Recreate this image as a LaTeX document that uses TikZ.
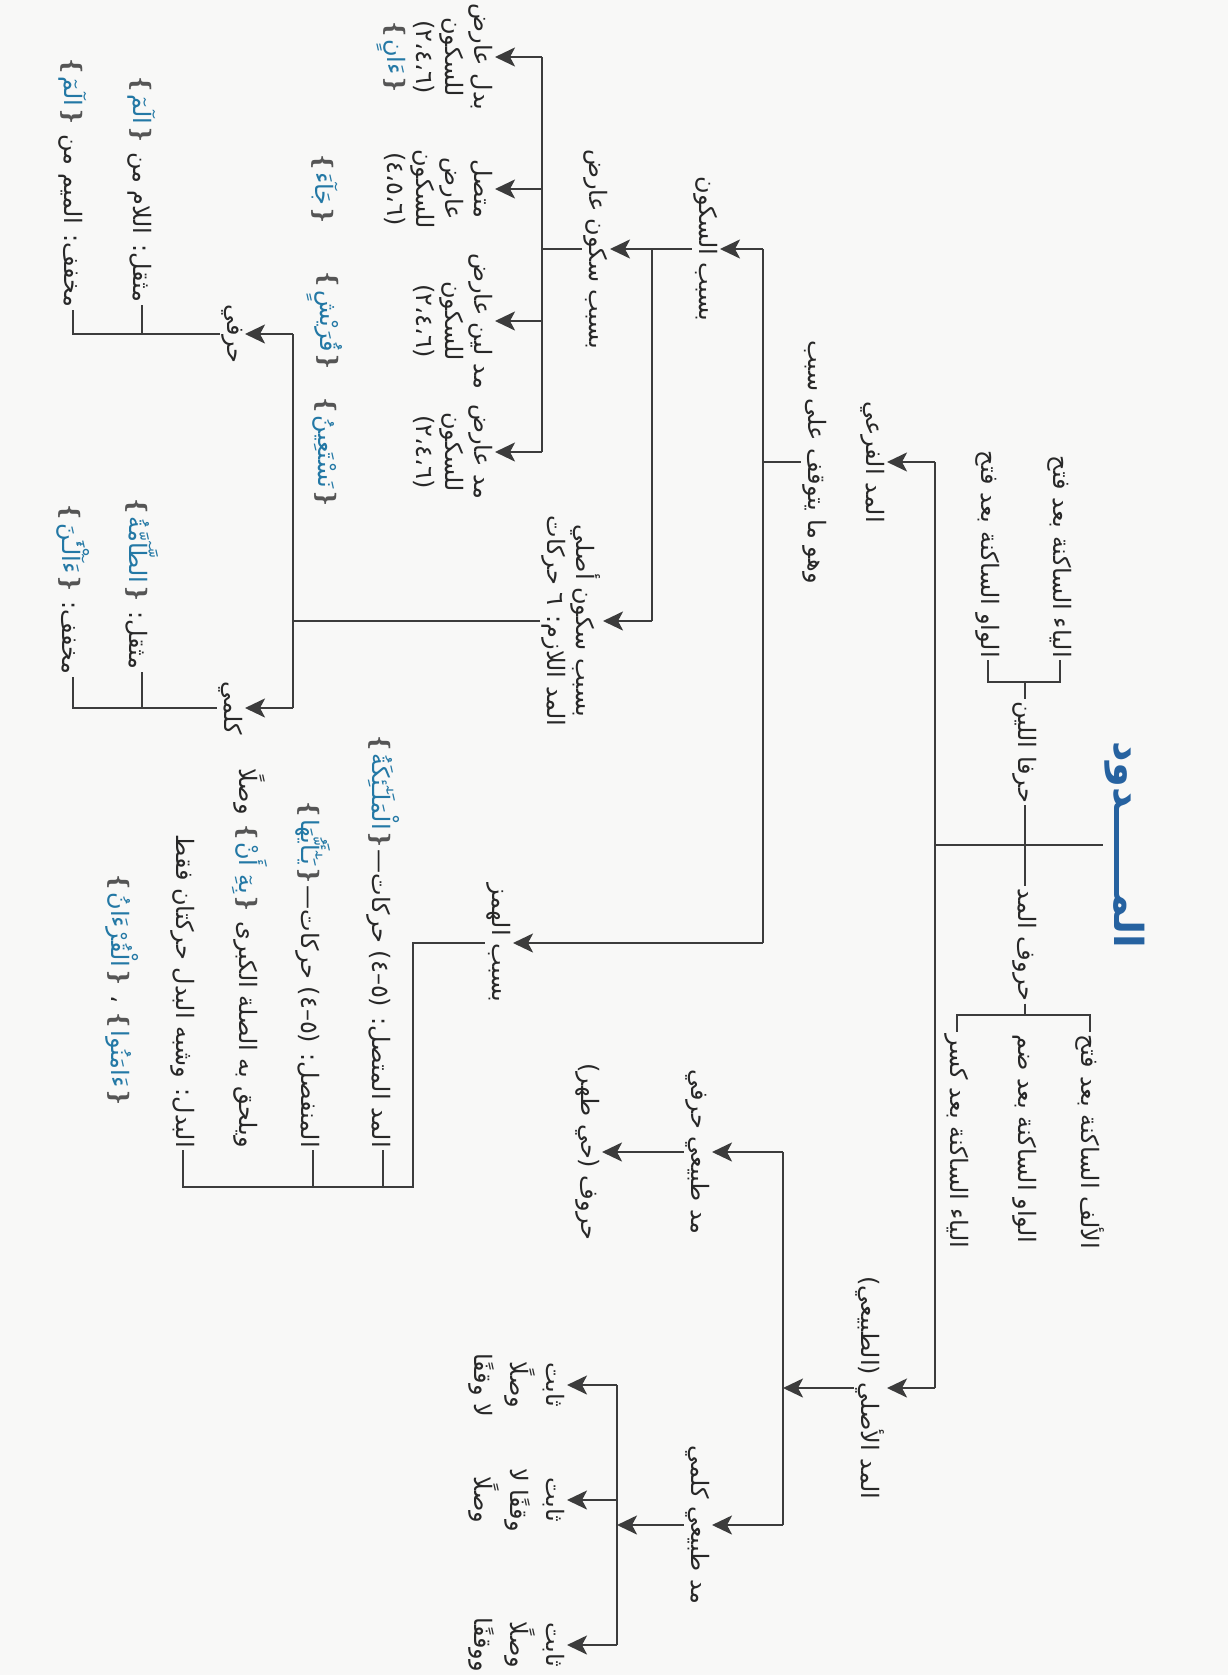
\documentclass[tikz,border=0pt]{standalone}
\usepackage{fontspec}
\usetikzlibrary{arrows.meta}
\TeXXeTstate=1
\newfontfamily\arfont[Script=Arabic]{DejaVu Sans}
\newfontfamily\ornfont{DejaVu Sans}
\definecolor{pagebg}{RGB}{248,248,247}
\definecolor{ink}{RGB}{40,40,40}
\definecolor{wirec}{RGB}{60,60,60}
\definecolor{qblue}{RGB}{35,120,165}
\definecolor{tblue}{RGB}{38,98,160}
\definecolor{orn}{RGB}{85,85,85}
\newcommand{\artxt}[1]{\beginR #1\endR}
\newcommand{\qv}[1]{\textcolor{orn}{\ornfont ❴}\textcolor{qblue}{\beginR #1\endR}\textcolor{orn}{\ornfont ❵}}

\begin{document}
\begin{tikzpicture}[x=1pt,y=-1pt,>={Stealth[length=20pt,width=19pt,inset=5pt]},
    wire/.style={draw=wirec,line width=2.6pt},
    lbl/.style={rotate=-90,inner sep=2pt,text=ink,font=\arfont\fontsize{24}{29}\selectfont},
    stack/.style={lbl,align=center},
    wide/.style={lbl,align=center,font=\arfont\fontsize{24}{36}\selectfont},
    roottitle/.style={rotate=-90,inner sep=2pt,text=tblue,font=\arfont\bfseries\fontsize{40}{42}\selectfont}]
\fill[pagebg] (0,0) rectangle (1228,1675);
\useasboundingbox (0,0) rectangle (1228,1675);

\coordinate (sA) at (935,0);
\coordinate (sB) at (763,0);
\coordinate (sC) at (652,0);
\coordinate (sD) at (542,0);
\coordinate (sE) at (293,0);
\coordinate (sF) at (783,0);
\coordinate (sG) at (617,0);
\coordinate (brk1) at (1025,682);
\coordinate (brk2) at (1025,1015);
\coordinate (hz) at (413,943);
\coordinate (hzb) at (413,1187);

% root and the two sets of letters
\node[roottitle] (root) at (1125,845) {\artxt{المــــــدود}};
\node[lbl] (lin) at (1025,752) {\artxt{حرفا اللين}};
\node[lbl] (hmadd) at (1025,945) {\artxt{حروف المد}};
\node[lbl,anchor=east] (lin1) at (1060,660) {\artxt{الياء الساكنة بعد فتح}};
\node[lbl,anchor=east] (lin2) at (988,660) {\artxt{الواو الساكنة بعد فتح}};
\node[lbl,anchor=west] (madd1) at (1090,1032) {\artxt{الألف الساكنة بعد فتح}};
\node[lbl,anchor=west] (madd2) at (1025,1032) {\artxt{الواو الساكنة بعد ضم}};
\node[lbl,anchor=west] (madd3) at (957,1032) {\artxt{الياء الساكنة بعد كسر}};

% main branches
\node[lbl,anchor=north] (fari) at (887,462) {\artxt{المد الفرعي}};
\node[lbl] (sabab) at (815,462) {\artxt{وهو ما يتوقف على سبب}};
\node[lbl,anchor=north] (asli) at (887,1388) {\artxt{المد الأصلي (الطبيعي)}};

% natural madd
\node[lbl,anchor=north] (tabh) at (712,1152) {\artxt{مد طبيعي حرفي}};
\node[lbl,anchor=north] (hayy) at (602,1152) {\artxt{حروف (حي طهر)}};
\node[lbl,anchor=north] (tabk) at (712,1525) {\artxt{مد طبيعي كلمي}};
\node[wide,anchor=north] (th1) at (567,1385) {\artxt{ثابت}\\\artxt{وصلًا}\\\artxt{لا وقفًا}};
\node[wide,anchor=north] (th2) at (567,1500) {\artxt{ثابت}\\\artxt{وقفًا لا}\\\artxt{وصلًا}};
\node[wide,anchor=north] (th3) at (567,1645) {\artxt{ثابت}\\\artxt{وصلًا}\\\artxt{ووقفًا}};

% sukun
\node[lbl,anchor=north] (sukun) at (720,249) {\artxt{بسبب السكون}};
\node[lbl,anchor=north] (arid) at (610,249) {\artxt{بسبب سكون عارض}};
\node[stack,anchor=north] (lazim) at (603,621) {\artxt{بسبب سكون أصلي}\\\artxt{المد اللازم: ٦ حركات}};
\node[stack,anchor=north] (g1) at (495,57) {\artxt{بدل عارض}\\\artxt{للسكون}\\\artxt{(٢،٤،٦)}\\\qv{ءَانٍ}};
\node[stack,anchor=north] (g2) at (495,189) {\artxt{متصل}\\\artxt{عارض}\\\artxt{للسكون}\\\artxt{(٤،٥،٦)}};
\node[stack,anchor=north] (g3) at (495,321) {\artxt{مد لين عارض}\\\artxt{للسكون}\\\artxt{(٢،٤،٦)}};
\node[stack,anchor=north] (g4) at (495,452) {\artxt{مد عارض}\\\artxt{للسكون}\\\artxt{(٢،٤،٦)}};
\node[lbl] (ex2) at (325,189) {\qv{جَآءَ}};
\node[lbl] (ex3) at (325,321) {\qv{قُرَيْشٍ}};
\node[lbl] (ex4) at (325,452) {\qv{نَسْتَعِينُ}};
\node[lbl,anchor=north] (harfi) at (245,334) {\artxt{حرفي}};
\node[lbl,anchor=north] (kalimi) at (245,708) {\artxt{كلمي}};
\node[lbl,anchor=east] (hf1) at (142,305) {\qv{الٓمٓ}\ \artxt{مثقل: اللام من}};
\node[lbl,anchor=east] (hf2) at (73,310) {\qv{الٓمٓ}\ \artxt{مخفف: الميم من}};
\node[lbl,anchor=east] (kl1) at (142,672) {\qv{الطَّآمَّةُ}\ \artxt{مثقل:}};
\node[lbl,anchor=east] (kl2) at (73,677) {\qv{ءَآلْـَٰٔنَ}\ \artxt{مخفف:}};

% hamz
\node[lbl,anchor=north] (hamz) at (513,943) {\artxt{بسبب الهمز}};
\node[lbl,anchor=east] (mut) at (383,1150) {\qv{الْمَلَـٰٓئِكَةُ}\artxt{المد المتصل: (٥–٤) حركات—}};
\node[lbl,anchor=east] (mun) at (313,1150) {\qv{يَـٰٓأَيُّهَا}\artxt{المنفصل: (٥–٤) حركات—}};
\node[lbl,anchor=east] (sila) at (250,1150) {\artxt{وصلًا}\ \qv{بِهِٓ أَنْ}\ \artxt{ويلحق به الصلة الكبرى}};
\node[lbl,anchor=east] (badal) at (183,1150) {\artxt{البدل: وشبه البدل حركتان فقط}};
\node[lbl,anchor=east] (badex) at (122,1110) {\qv{الْقُرْءَانُ}\ ،\ \qv{ءَامَنُوا}};

% connectors
\draw[wire] (root) -- (sA |- root);
\draw[wire] (lin) -- (hmadd);
\draw[wire] (lin) -- (brk1);
\draw[wire] (lin1.east) -- (lin1.east |- brk1) -- (lin2.east |- brk1) -- (lin2.east);
\draw[wire] (hmadd) -- (brk2);
\draw[wire] (madd1.west) -- (madd1.west |- brk2) -- (madd3.west |- brk2) -- (madd3.west);

\draw[wire] (sA |- fari) -- (sA |- asli);
\draw[wire,->] (sA |- fari) -- (fari);
\draw[wire,->] (sA |- asli) -- (asli);

\draw[wire,->] (asli) -- (sF |- asli);
\draw[wire] (sF |- tabh) -- (sF |- tabk);
\draw[wire,->] (sF |- tabh) -- (tabh);
\draw[wire,->] (sF |- tabk) -- (tabk);
\draw[wire,->] (tabh) -- (hayy);
\draw[wire,->] (tabk) -- (sG |- tabk);
\draw[wire] (sG |- th1) -- (sG |- th3);
\foreach \t in {th1,th2,th3}
  \draw[wire,->] (sG |- \t) -- (\t);

\draw[wire] (sabab) -- (sB |- sabab);
\draw[wire] (sB |- sukun) -- (sB |- hamz);
\draw[wire,->] (sB |- sukun) -- (sukun);
\draw[wire,->] (sB |- hamz) -- (hamz);
\draw[wire,->] (sukun) -- (arid);
\draw[wire] (sC |- sukun) -- (sC |- lazim);
\draw[wire,->] (sC |- lazim) -- (lazim);
\draw[wire] (arid) -- (sD |- arid);
\draw[wire] (sD |- g1) -- (sD |- g4);
\foreach \g in {g1,g2,g3,g4}
  \draw[wire,->] (sD |- \g) -- (\g);

\draw[wire] (lazim) -- (sE |- lazim);
\draw[wire] (sE |- harfi) -- (sE |- kalimi);
\draw[wire,->] (sE |- harfi) -- (harfi);
\draw[wire,->] (sE |- kalimi) -- (kalimi);
\draw[wire] (harfi) -- (hf2.east |- harfi) -- (hf2.east);
\draw[wire] (hf1.east) -- (hf1.east |- harfi);
\draw[wire] (kalimi) -- (kl2.east |- kalimi) -- (kl2.east);
\draw[wire] (kl1.east) -- (kl1.east |- kalimi);

\draw[wire] (hamz) -- (hz) -- (hzb) -- (badal.east |- hzb) -- (badal.east);
\draw[wire] (mut.east) -- (mut.east |- hzb);
\draw[wire] (mun.east) -- (mun.east |- hzb);
\end{tikzpicture}
\end{document}
